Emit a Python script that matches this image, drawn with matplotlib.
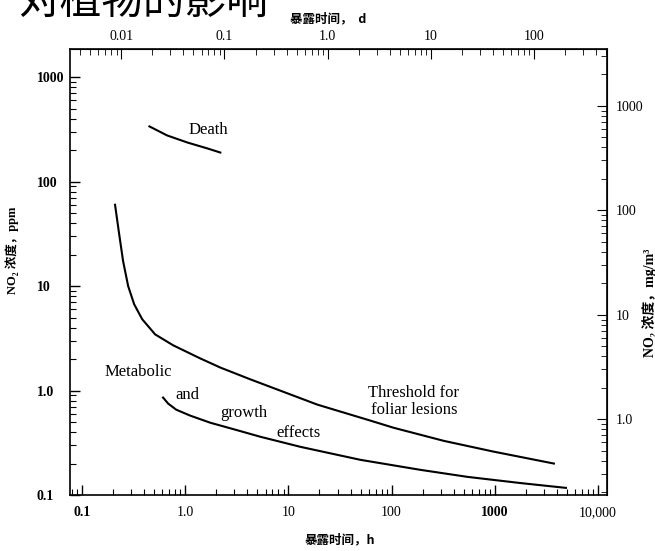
import matplotlib
matplotlib.use("Agg")
import matplotlib.pyplot as plt
from matplotlib.ticker import FixedLocator, FixedFormatter, LogLocator, NullFormatter

# 暴露时间 (h) 与 NO2 浓度 (ppm)
death_h = [0.45, 0.668, 1.05, 1.64, 2.19]
death_ppm = [338, 277, 237, 208, 190]

threshold_h = [0.209, 0.229, 0.250, 0.280, 0.320, 0.383, 0.511, 0.765, 1.40, 2.19,
               4.28, 19.1, 62.5, 104, 320, 977, 3740]
threshold_ppm = [60.1, 31.6, 17.4, 10.0, 6.71, 4.82, 3.45, 2.71, 2.03, 1.66,
                 1.28, 0.733, 0.515, 0.441, 0.330, 0.26, 0.20]

metabolic_h = [0.61, 0.684, 0.818, 1.12, 1.75, 3.06, 5.35, 13.1, 50, 191, 547, 1790, 4890]
metabolic_ppm = [0.857, 0.750, 0.656, 0.575, 0.492, 0.422, 0.361, 0.289, 0.217,
                 0.174, 0.149, 0.130, 0.117]

x_ticks = [0.1, 1, 10, 100, 1000, 10000]
x_labels = ["0.1", "1.0", "10", "100", "1000", "10,000"]
y_ticks = [0.1, 1, 10, 100, 1000]
y_labels = ["0.1", "1.0", "10", "100", "1000"]
d_ticks = [0.01, 0.1, 1, 10, 100]
d_labels = ["0.01", "0.1", "1.0", "10", "100"]
mg_ticks = [1, 10, 100, 1000]
mg_labels = ["1.0", "10", "100", "1000"]
ppm_to_mg = 1.88

serif = ["Liberation Serif", "Noto Sans CJK SC", "DejaVu Sans"]
cjk = ["Noto Sans CJK SC", "DejaVu Sans"]
plt.rcParams["font.family"] = serif

fig = plt.figure(figsize=(6.55, 5.51), dpi=100)
ax = fig.add_axes([70 / 655, 1 - 495 / 551, 537 / 655, 446 / 551])

lw = 1.5
ax.plot(death_h, death_ppm, color="black", lw=lw)
ax.plot(threshold_h, threshold_ppm, color="black", lw=lw)
ax.plot(metabolic_h, metabolic_ppm, color="black", lw=lw)

ax.set_xscale("log")
ax.set_yscale("log")
ax.set_xlim(0.0765, 12230)
ax.set_ylim(0.1, 1862)

ax.xaxis.set_major_locator(FixedLocator(x_ticks))
ax.xaxis.set_major_formatter(FixedFormatter(x_labels))
ax.yaxis.set_major_locator(FixedLocator(y_ticks))
ax.yaxis.set_major_formatter(FixedFormatter(y_labels))
for a in (ax.xaxis, ax.yaxis):
    a.set_minor_locator(LogLocator(base=10, subs=range(2, 10), numticks=20))
    a.set_minor_formatter(NullFormatter())

ax.tick_params(which="both", direction="in", top=False, right=False)
ax.tick_params(which="major", length=7, width=1)
ax.tick_params(which="minor", length=4, width=0.8)
ax.tick_params(axis="x", pad=8, labelsize=10)
ax.tick_params(axis="y", pad=24, labelsize=10)
for lab in ax.get_yticklabels():
    lab.set_fontweight("bold")
    lab.set_horizontalalignment("left")
ax.get_xticklabels()[0].set_fontweight("bold")
ax.get_xticklabels()[4].set_fontweight("bold")
for s in ax.spines.values():
    s.set_linewidth(1.2)

top = ax.secondary_xaxis("top", functions=(lambda h: h / 24, lambda d: d * 24))
top.set_xticks(d_ticks)
top.set_xticklabels(d_labels)
top.xaxis.set_minor_locator(LogLocator(base=10, subs=range(2, 10), numticks=20))
top.xaxis.set_minor_formatter(NullFormatter())
top.tick_params(which="both", direction="in", labelsize=10, pad=4)
top.tick_params(which="major", length=7)
top.tick_params(which="minor", length=4)

right = ax.secondary_yaxis("right", functions=(lambda p: p * ppm_to_mg, lambda m: m / ppm_to_mg))
right.set_yticks(mg_ticks)
right.set_yticklabels(mg_labels)
right.yaxis.set_minor_locator(LogLocator(base=10, subs=range(2, 10), numticks=20))
right.yaxis.set_minor_formatter(NullFormatter())
right.tick_params(which="both", direction="in", labelsize=10, pad=6)
right.tick_params(which="major", length=7)
right.tick_params(which="minor", length=4)

txt = dict(fontsize=12, color="black", ha="center", va="center")
ax.text(1.67, 309, "Death", **txt)
ax.text(0.35, 1.52, "Metabolic", **txt)
ax.text(1.05, 0.915, "and", **txt)
ax.text(3.66, 0.614, "growth", **txt)
ax.text(12.5, 0.395, "effects", **txt)
ax.text(164, 0.957, "Threshold for", **txt)
ax.text(164, 0.657, "foliar lesions", **txt)

fig.text(340 / 655, 1 - 540 / 551, "暴露时间，h", ha="center", va="center",
         fontsize=9, fontweight="bold", family=cjk)
fig.text(328 / 655, 1 - 19 / 551, "暴露时间，  d", ha="center", va="center",
         fontsize=9, fontweight="bold", family=cjk)
fig.text(12 / 655, 1 - 250 / 551, "NO₂ 浓度，ppm", rotation=90, ha="center", va="center",
         fontsize=9, fontweight="bold", family=serif)
fig.text(650 / 655, 1 - 303 / 551, "NO₂ 浓度，mg/m³", rotation=90, ha="center", va="center",
         fontsize=10, fontweight="bold", family=serif)

# 截断的大标题，只露出下半部分
fig.text(18 / 655, 1 - 14 / 551, "对植物的影响", ha="left", va="baseline",
         fontsize=30, family=cjk)

fig.savefig("out.png", dpi=100)
